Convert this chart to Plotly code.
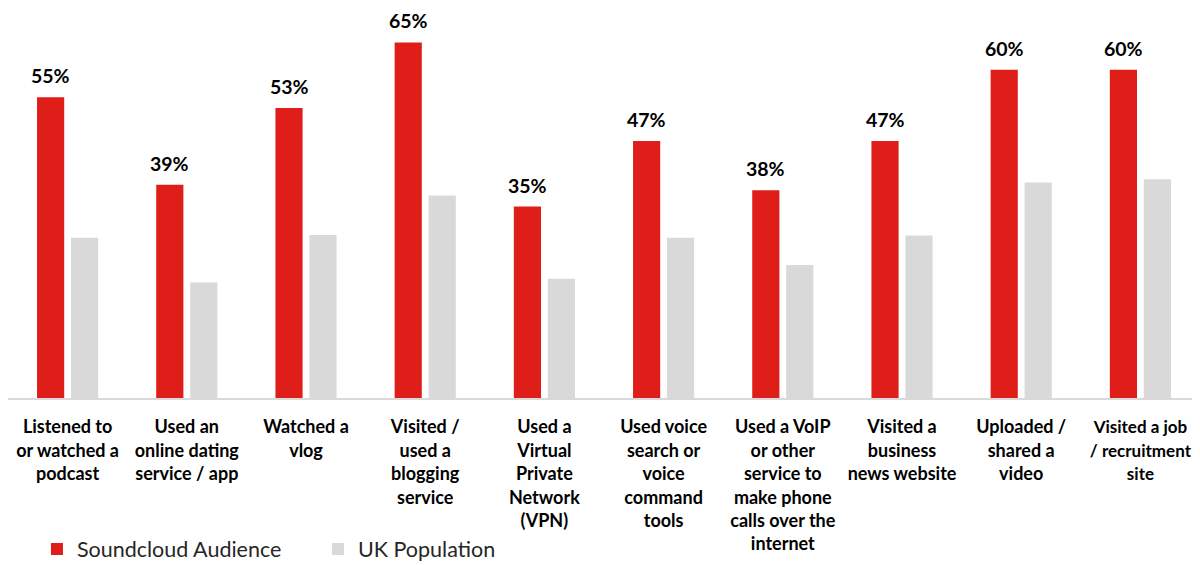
import plotly.graph_objects as go

categories = [
    "Listened to<br>or watched a<br>podcast",
    "Used an<br>online dating<br>service / app",
    "Watched a<br>vlog",
    "Visited /<br>used a<br>blogging<br>service",
    "Used a<br>Virtual<br>Private<br>Network<br>(VPN)",
    "Used voice<br>search or<br>voice<br>command<br>tools",
    "Used a VoIP<br>or other<br>service to<br>make phone<br>calls over the<br>internet",
    "Visited a<br>business<br>news website",
    "Uploaded /<br>shared a<br>video",
    "Visited a job<br>/ recruitment<br>site",
]
soundcloud = [55, 39, 53, 65, 35, 47, 38, 47, 60, 60]
uk_population = [29.3, 21.1, 29.8, 37.0, 21.8, 29.3, 24.3, 29.7, 39.4, 40.0]

RED = "#E01E19"
GREY = "#D9D9D9"
FONT = "Lato"

xs = list(range(len(categories)))

fig = go.Figure()
fig.add_trace(go.Bar(x=xs, y=soundcloud, name="Soundcloud Audience",
                     marker=dict(color=RED, line=dict(width=0))))
fig.add_trace(go.Bar(x=xs, y=uk_population, name="UK Population",
                     marker=dict(color=GREY, line=dict(width=0))))

for i, v in enumerate(soundcloud):
    fig.add_annotation(x=i, y=v, xref="x", yref="y", text=f"<b>{v}%</b>",
                       showarrow=False, xshift=-17, yshift=9, yanchor="bottom",
                       borderpad=0,
                       font=dict(family=FONT, size=19.5, color="#000000"))

tick_text = [f"<b>{c}</b>" for c in categories]
# the right-most label sits at the page edge: set it a touch smaller so it fits
tick_text[-1] = f'<span style="font-size:17px"><b>{categories[-1]}</b></span>'

fig.update_layout(
    width=1192, height=557,
    margin=dict(l=0, r=0, t=0, b=167, autoexpand=False),
    paper_bgcolor="white", plot_bgcolor="white",
    barmode="group", bargap=0.43, bargroupgap=0.2,
    showlegend=True,
    legend=dict(orientation="h", x=0.0243, xanchor="left", y=-0.387, yanchor="middle",
                font=dict(family=FONT, size=21.5, color="#262626"),
                entrywidth=236, entrywidthmode="pixels", bgcolor="rgba(0,0,0,0)"),
    font=dict(family=FONT),
)
fig.update_xaxes(
    tickmode="array", tickvals=xs, ticktext=tick_text,
    tickfont=dict(family=FONT, size=18, color="#000000"),
    showline=True, linecolor="#D9D9D9", linewidth=1.5,
    ticks="outside", ticklen=12, tickcolor="rgba(0,0,0,0)",
    showgrid=False, zeroline=False, range=[-0.5, len(categories) - 0.5],
    tickangle=0, automargin=False,
)
fig.update_yaxes(range=[0, 71.3], visible=False, showgrid=False, zeroline=False,
                 automargin=False)

fig.write_html("out.html")
